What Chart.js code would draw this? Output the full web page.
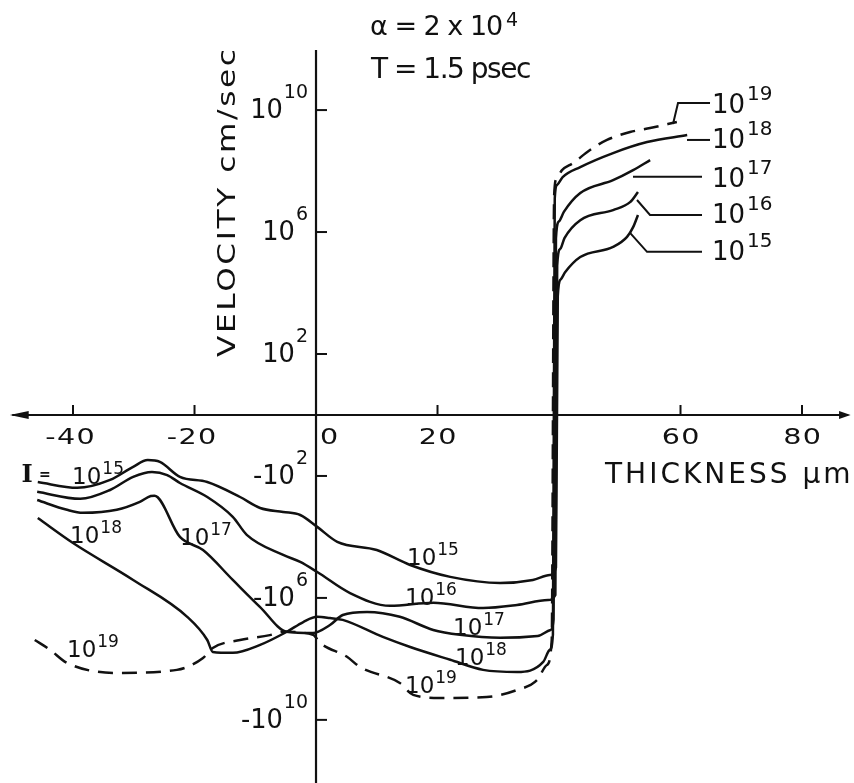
<!DOCTYPE html>
<html><head><meta charset="utf-8">
<style>html,body{margin:0;padding:0;background:#fff}#wrap{width:854px;height:783px}</style>
<script src="https://cdn.jsdelivr.net/npm/chart.js@4.4.1/dist/chart.umd.min.js"></script>
</head><body><div id="wrap"><canvas id="c" width="854" height="783"></canvas></div>
<script>
// ---- DATA: thickness (µm) and signed log10 of velocity (cm/sec) ----
const thickness15 = [-45.8,-39.3,-33.9,-30.1,-27.7,-25.7,-22.4,-17.9,-12.5,-9.2,-5.4,-2.6,0.2,3.5,10.0,15.5,22.1,30.3,35.7,38.5,39.5,39.8,40.3,41.0,43.5,48.9,51.2,52.2,53.0];
const logVel15  = [-2.20,-2.39,-2.13,-1.70,-1.48,-1.54,-2.03,-2.20,-2.69,-3.05,-3.18,-3.28,-3.67,-4.16,-4.43,-4.92,-5.31,-5.51,-5.41,-5.25,-5.0,3.9,4.45,4.68,5.18,5.51,5.84,6.16,6.56];

const thickness16 = [-45.9,-38.8,-33.9,-30.1,-27.0,-24.5,-22.4,-17.9,-13.7,-11.4,-5.4,-2.6,0.2,5.6,12.2,19.3,27.5,33.1,38.2,39.4,39.7,40.2,40.9,43.5,48.9,51.7,53.0];
const logVel16  = [-2.52,-2.75,-2.46,-2.03,-1.87,-1.97,-2.23,-2.69,-3.34,-3.93,-4.59,-4.82,-5.15,-5.84,-6.26,-6.16,-6.33,-6.23,-6.07,-5.9,4.9,5.45,5.80,6.39,6.72,6.98,7.31];

const thickness17 = [-45.9,-41.0,-38.4,-32.8,-29.0,-27.2,-26.6,-22.4,-18.6,-13.7,-9.2,-4.8,-0.5,2.3,4.4,8.4,13.8,19.3,23.7,30.3,36.5,38.6,39.1,39.5,40.0,40.8,43.5,48.9,52.2,55.0];
const logVel17  = [-2.79,-3.11,-3.21,-3.11,-2.85,-2.66,-2.65,-4.00,-4.43,-5.41,-6.30,-7.11,-7.15,-6.89,-6.56,-6.46,-6.62,-7.05,-7.21,-7.31,-7.25,-7.05,-6.7,5.8,6.35,6.66,7.28,7.70,8.03,8.36];

const thickness18 = [-45.8,-40.0,-30.1,-21.2,-17.9,-17.0,-13.7,-9.2,-4.8,-2.1,0.2,2.3,4.4,11.0,15.5,22.1,27.5,33.1,37.4,38.5,39.0,39.3,39.7,40.6,43.5,48.9,54.5,61.1];
const logVel18  = [-3.38,-4.20,-5.41,-6.62,-7.38,-7.77,-7.80,-7.54,-7.11,-6.79,-6.62,-6.66,-6.72,-7.28,-7.61,-8.03,-8.36,-8.43,-8.10,-7.70,-7.2,7.1,7.55,7.80,8.13,8.59,8.95,9.18];

const thickness19 = [-46.3,-43.8,-41.0,-32.8,-22.9,-18.6,-17.0,-12.5,-7.6,-5.4,-0.5,0.7,5.1,7.2,13.8,16.0,20.4,28.1,33.1,36.4,38.0,38.8,39.2,39.6,40.5,42.3,45.1,47.9,51.7,55.0,59.4];
const logVel19  = [-7.38,-7.70,-8.13,-8.46,-8.36,-7.97,-7.64,-7.38,-7.22,-7.11,-7.21,-7.48,-7.93,-8.26,-8.79,-9.18,-9.28,-9.25,-9.02,-8.69,-8.20,-7.38,7.2,7.75,8.03,8.26,8.69,9.02,9.28,9.41,9.61];

const intensityExps = ['15','16','17','18','19'];
const xTickValues = [-40,-20,0,20,60,80];
const yTickValues = [10,6,2,-2,-6,-10];

// annotation leaders (data units)
const leaders = [
  [[58.77,9.54],[59.59,10.23],[64.86,10.23]],
  [[61.07,9.02],[64.86,9.02]],
  [[52.18,7.81],[63.54,7.81]],
  [[52.84,7.05],[54.98,6.56],[63.54,6.56]],
  [[51.69,5.97],[54.49,5.35],[63.54,5.35]]
];
// curve labels: [exponent, x, y, style]
const curveLabels = [
  ['15',-40.16,-2.26,'s'],['18',-40.49,-4.20,'s'],['17',-22.39,-4.26,'s'],['19',-40.99,-7.94,'s'],
  ['15',14.98,-4.92,'s'],['16',14.65,-6.23,'s'],['17',22.55,-7.22,'s'],['18',22.88,-8.20,'s'],['19',14.65,-9.12,'s'],
  ['19',65.19,9.90,'b'],['18',65.19,8.76,'b'],['17',65.19,7.48,'b'],['16',65.19,6.30,'b'],['15',65.19,5.08,'b']
];

const INK = '#111';
const FONT = '"DejaVu Sans"';
function pts(xs, vs){ return xs.map((x,i)=>({x:x, y:vs[i]})); }
const series = [[thickness15,logVel15],[thickness16,logVel16],[thickness17,logVel17],[thickness18,logVel18],[thickness19,logVel19]];
const datasets = series.map((s,i)=>({
  label: 'I = 10^' + intensityExps[i],
  data: pts(s[0], s[1]),
  borderColor: INK, borderWidth: 2.5, pointRadius: 0, fill: false,
  cubicInterpolationMode: 'monotone',
  borderDash: i===4 ? [15,9] : []
}));

function drawText(ctx, s, x, y, o){
  ctx.save();
  ctx.font = (o.weight||'normal') + ' ' + o.size + 'px ' + (o.family||FONT);
  ctx.letterSpacing = (o.ls||0) + 'px';
  ctx.fillStyle = INK;
  ctx.textBaseline = o.baseline || 'alphabetic';
  ctx.textAlign = 'left';
  ctx.translate(x, y);
  if (o.rot) ctx.rotate(o.rot);
  const sx = o.sx || 1;
  ctx.scale(sx, 1);
  const w = ctx.measureText(s).width - (o.ls||0);
  let dx = 0;
  if (o.align === 'center') dx = -w/2; else if (o.align === 'right') dx = -w;
  ctx.fillText(s, dx, 0);
  ctx.restore();
  return w * sx;
}
function textWidth(ctx, s, o){
  ctx.save();
  ctx.font = (o.weight||'normal') + ' ' + o.size + 'px ' + (o.family||FONT);
  ctx.letterSpacing = (o.ls||0) + 'px';
  const w = (ctx.measureText(s).width - (o.ls||0)) * (o.sx||1);
  ctx.restore();
  return w;
}
function drawPow(ctx, base, exp, x, y, o){
  const bo = {size:o.size, sx:o.sx, ls:o.ls};
  const so = {size:o.supSize, sx:o.sx, ls:o.ls};
  const wb = textWidth(ctx, base, bo), ws = textWidth(ctx, exp, so);
  let left = x;
  if (o.align === 'right') left = x - wb - o.gap - ws;
  drawText(ctx, base, left, y, bo);
  drawText(ctx, exp, left + wb + o.gap, y - o.raise, so);
}

const axisPlugin = {
  id: 'axisPlugin',
  afterDatasetsDraw(chart){
    const ctx = chart.ctx, xs = chart.scales.x, ys = chart.scales.y;
    const X = v => xs.getPixelForValue(v), Y = v => ys.getPixelForValue(v);
    const x0 = X(0), y0 = Y(0);
    ctx.save();
    ctx.strokeStyle = INK; ctx.fillStyle = INK; ctx.lineWidth = 2.2; ctx.lineCap = 'butt';
    // x axis with arrows
    ctx.beginPath(); ctx.moveTo(X(-50.0), y0); ctx.lineTo(X(87.6), y0); ctx.stroke();
    ctx.beginPath(); ctx.moveTo(X(-50.4), y0); ctx.lineTo(X(-47.3), y0-4); ctx.lineTo(X(-47.3), y0+4); ctx.closePath(); ctx.fill();
    ctx.beginPath(); ctx.moveTo(X(88.0), y0); ctx.lineTo(X(86.1), y0-4); ctx.lineTo(X(86.1), y0+4); ctx.closePath(); ctx.fill();
    // y axis
    ctx.beginPath(); ctx.moveTo(x0, Y(11.97)); ctx.lineTo(x0, Y(-12.07)); ctx.stroke();
    // ticks
    ctx.lineWidth = 2;
    xTickValues.forEach(v => { if (v === 0) return; ctx.beginPath(); ctx.moveTo(X(v), y0); ctx.lineTo(X(v), y0-10); ctx.stroke(); });
    yTickValues.forEach(v => { ctx.beginPath(); ctx.moveTo(x0, Y(v)); ctx.lineTo(x0+11, Y(v)); ctx.stroke(); });
    // x tick labels
    xTickValues.forEach(v => {
      const o = {size:22, sx:1.3, ls:1};
      if (v === 0) drawText(ctx, '0', x0+4, y0+29, o);
      else drawText(ctx, (v<0?'-':'') + Math.abs(v), X(v) + (v<0?-3:0), y0+29, Object.assign({align:'center'}, o));
    });
    // y tick labels
    yTickValues.forEach(v => {
      drawPow(ctx, (v<0?'-':'') + '10', String(Math.abs(v)), x0-8, Y(v)+8,
        {size:27, supSize:20, gap:1, raise:20, align:'right', sx:0.95, ls:0});
    });
    // leaders
    ctx.lineWidth = 2;
    leaders.forEach(L => { ctx.beginPath(); L.forEach((p,i)=> i? ctx.lineTo(X(p[0]),Y(p[1])) : ctx.moveTo(X(p[0]),Y(p[1]))); ctx.stroke(); });
    // curve labels
    curveLabels.forEach(c => {
      if (c[3] === 's') drawPow(ctx, '10', c[0], X(c[1]), Y(c[2]), {size:23, supSize:17, gap:1, raise:10, sx:1.0});
      else drawPow(ctx, '10', c[0], X(c[1]), Y(c[2]), {size:26, supSize:20, gap:2, raise:13, sx:1.0});
    });
    // "I =" prefix
    drawText(ctx, 'I', X(-48.5), Y(-2.20), {size:24, family:'"DejaVu Serif"', weight:'bold'});
    drawText(ctx, '=', X(-45.6), Y(-2.20)-3, {size:14, weight:'bold'});
    // titles
    drawText(ctx, 'α = 2 x 10', 370, 35, {size:27, ls:-1});
    drawText(ctx, '4', 506, 26, {size:19});
    drawText(ctx, 'T = 1.5 psec', 371, 78, {size:28, ls:-1.5});
    drawText(ctx, 'THICKNESS µm', 605, 483, {size:28, ls:3});
    drawText(ctx, 'VELOCITY cm/sec', 229, 203, {size:24, sx:1.3, ls:2, align:'center', baseline:'middle', rot:-Math.PI/2});
    ctx.restore();
  }
};

new Chart(document.getElementById('c'), {
  type: 'line',
  data: { datasets: datasets },
  options: {
    responsive: false, animation: false, devicePixelRatio: 1, events: [],
    layout: { padding: 0 },
    plugins: { legend: { display: false }, tooltip: { enabled: false }, title: { display: false } },
    scales: {
      x: { type: 'linear', min: -52.02, max: 88.56, display: false },
      y: { type: 'linear', min: -12.07, max: 13.61, display: false }
    }
  },
  plugins: [axisPlugin]
});
</script>
</body></html>
